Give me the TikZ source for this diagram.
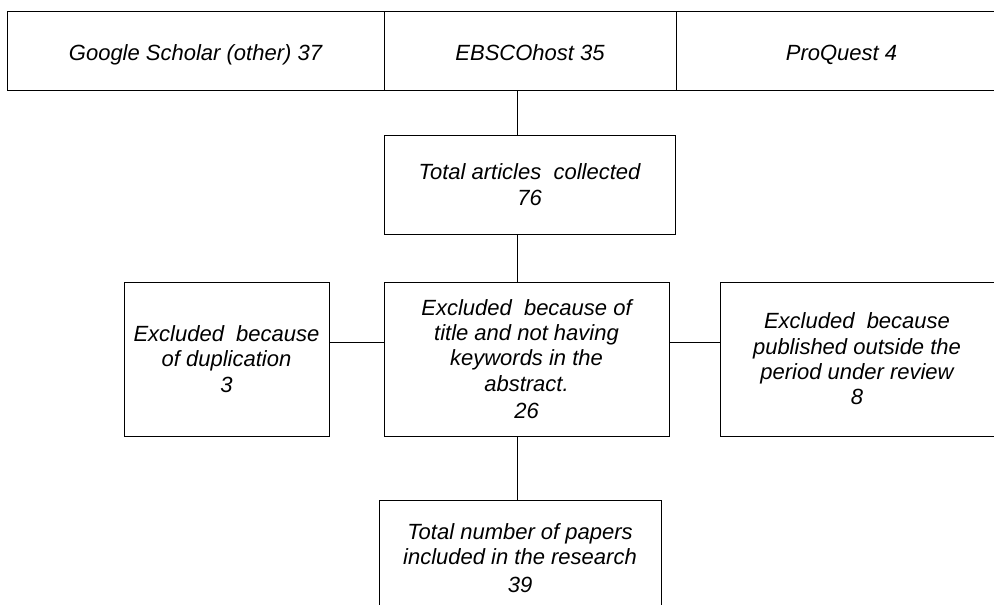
\documentclass[tikz,border=0pt]{standalone}
\usepackage{fontspec}
\setmainfont{Liberation Sans}
\usepackage{xcolor}
\usetikzlibrary{positioning}

\begin{document}
\begin{tikzpicture}[
    x=0.75pt, y=-0.75pt,
    box/.style={rectangle, draw, line width=0.75pt, align=center, inner sep=0pt,
                font=\fontsize{16.5}{19}\selectfont\itshape},
    source/.style={box, minimum height=59.25pt, text height=15pt, text depth=0.5pt},
    link/.style={line width=0.75pt}
  ]
    \useasboundingbox (0,0) rectangle (994,604);
    % databases searched
    \node[source, minimum width=282.75pt] (google) at (195.5,50.5) {Google Scholar (other) 37};
    \node[source, minimum width=219pt]    (ebsco)  at (530,50.5)   {EBSCOhost 35};
    \node[source, minimum width=248.25pt] (proquest) at (841.5,50.5) {ProQuest 4};
    % screening
    \node[box, minimum width=218.25pt, minimum height=74.25pt] (total) at (529.5,184.5)
      {Total articles\ \ collected\\76};
    \node[box, minimum width=213.75pt, minimum height=115.5pt] (title) at (526.5,359)
      {Excluded\ \ because of\\title and not having\\keywords in the\\abstract.\\[1.5pt]26};
    \node[box, minimum width=153.75pt, minimum height=115.5pt] (dup) at (226.5,359)
      {Excluded\ \ because\\of duplication\\3};
    \node[box, minimum width=205.5pt, minimum height=115.5pt] (period) at (857,359)
      {Excluded\ \ because\\published outside the\\period under review\\8};
    \node[box, minimum width=211.5pt, minimum height=87pt] (final) at (520,558)
      {Total number of papers\\included in the research\\[2pt]39};

    \coordinate (spine) at (517,342);

    \draw[link] (ebsco.south -| spine) -- (total.north -| spine);
    \draw[link] (total.south -| spine) -- (title.north -| spine);
    \draw[link] (dup.east |- spine) -- (title.west |- spine);
    \draw[link] (title.east |- spine) -- (period.west |- spine);
    \draw[link] (title.south -| spine) -- (final.north -| spine);
\end{tikzpicture}
\end{document}
